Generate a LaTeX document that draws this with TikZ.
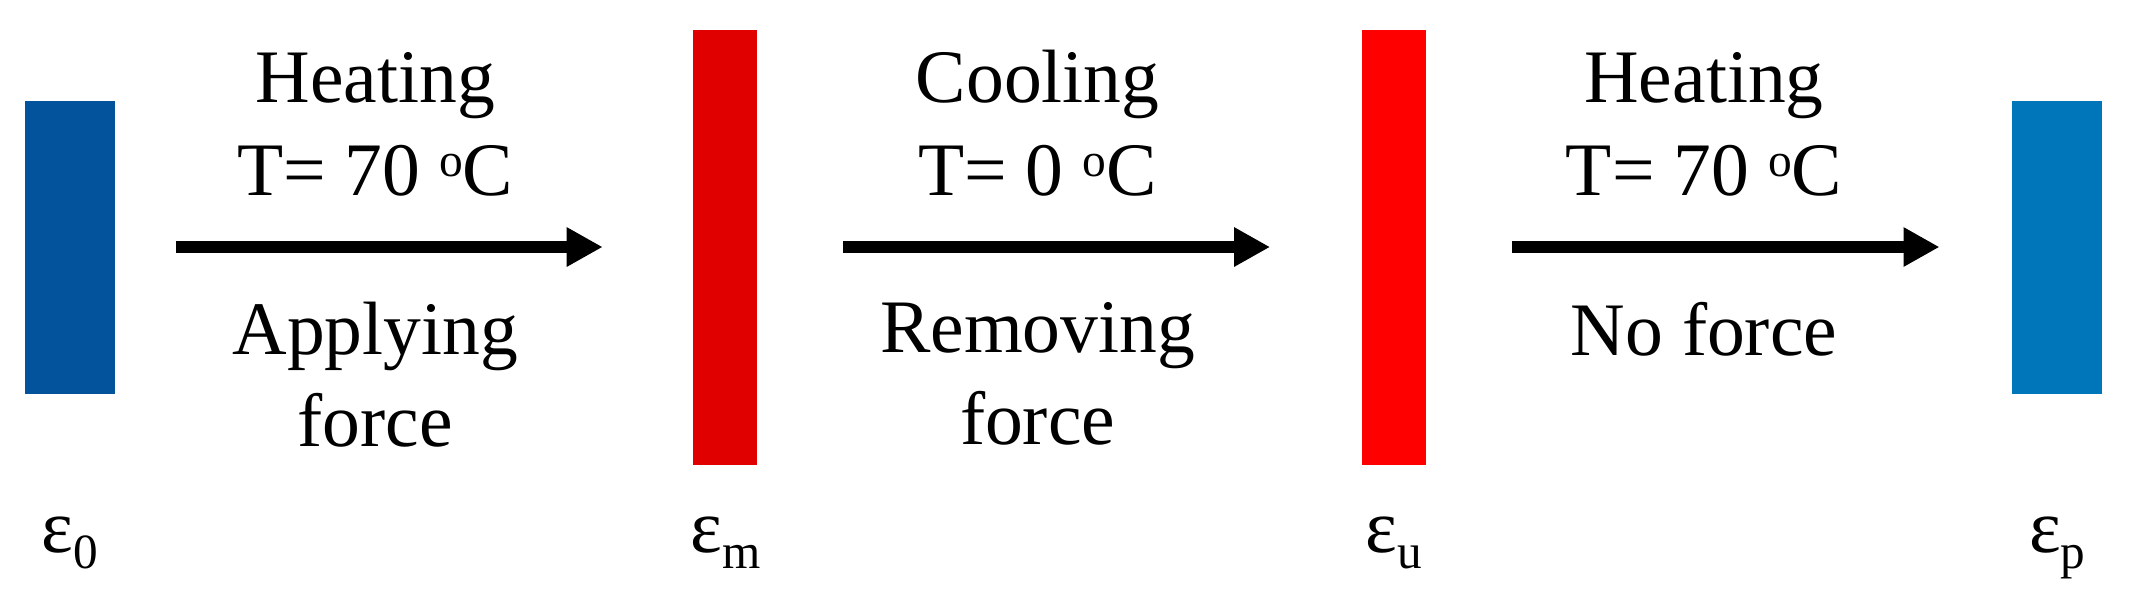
\documentclass[tikz,border=0pt]{standalone}
\usepackage{fontspec}
\setmainfont{Liberation Serif}
\usepackage{xcolor}
\usepackage{tikz}
\usetikzlibrary{arrows.meta, positioning}

\definecolor{coldblue}{RGB}{2,83,156}
\definecolor{warmred}{RGB}{224,0,0}
\definecolor{hotred}{RGB}{255,0,0}
\definecolor{softblue}{RGB}{0,118,186}
\newcommand{\strainof}[1]{ε\raisebox{-4.6pt}{\fontsize{14pt}{14pt}\selectfont #1}}
\newcommand{\degC}{\raisebox{5.4pt}{\fontsize{13.5pt}{13.5pt}\selectfont o}C}

\begin{document}
\begin{tikzpicture}[
    font=\fontsize{21.5pt}{26.2pt}\selectfont,
    wide_bar/.style={rectangle, inner sep=0pt, minimum width=0.9cm, minimum height=2.93cm},
    tall_bar/.style={rectangle, inner sep=0pt, minimum width=0.64cm, minimum height=4.35cm},
    strain_label/.style={anchor=base, inner sep=0pt},
    step_text/.style={align=center, inner sep=0pt, text depth=0pt},
    arrow/.style={-{Triangle[length=0.36cm, width=0.37cm]}, line width=0.12cm}
]
\useasboundingbox (0,0) rectangle (21.29,-6.08);

\node (e0) [wide_bar, fill=coldblue] at (0.70,-2.47) {};
\node (em) [tall_bar, fill=warmred, right=5.77cm of e0] {};
\node (eu) [tall_bar, fill=hotred, right=6.03cm of em] {};
\node (ep) [wide_bar, fill=softblue, right=5.85cm of eu] {};

\node (l0) [strain_label] at (e0 |- 0,-5.52) {\strainof{0}};
\node (lm) [strain_label] at (em |- 0,-5.52) {\strainof{m}};
\node (lu) [strain_label] at (eu |- 0,-5.52) {\strainof{u}};
\node (lp) [strain_label] at (ep |- 0,-5.52) {\strainof{p}};

\draw [arrow, shorten <=0.6cm, shorten >=0.9cm] (e0) --
    node[step_text, above=0.46cm, xshift=-2.9mm] {Heating\\T= 70 \degC}
    node[step_text, below=0.49cm, xshift=-2.9mm] {Applying\\force} (em);
\draw [arrow, shorten <=0.85cm, shorten >=0.91cm] (em) --
    node[step_text, above=0.46cm, xshift=-2.2mm] {Cooling\\T= 0 \degC}
    node[step_text, below=0.49cm, xshift=-2.2mm] {Removing\\force} (eu);
\draw [arrow, shorten <=0.85cm, shorten >=0.72cm] (eu) --
    node[step_text, above=0.46cm, xshift=-1.5mm] {Heating\\T= 70 \degC}
    node[step_text, below=0.49cm, xshift=-1.5mm] {No force} (ep);
\end{tikzpicture}
\end{document}
